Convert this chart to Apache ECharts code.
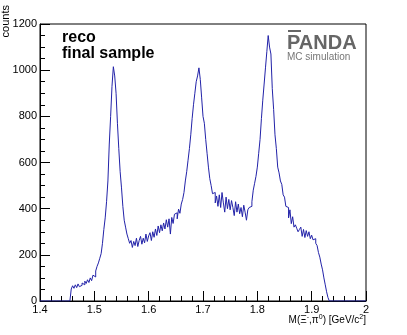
<!DOCTYPE html>
<html>
<head>
<meta charset="utf-8">
<script src="https://cdn.jsdelivr.net/npm/echarts@6/dist/echarts.min.js"></script>
<style>
  html, body { margin: 0; padding: 0; background: #fff; }
  #chart { width: 407px; height: 335px; }
</style>
</head>
<body>
<div id="chart"></div>
<script>
// histogram binning
const xMin = 1.4;
const xMax = 2.0;
const binWidth = 0.0025;
const firstEdge = 1.4575;   // low edge of first non-empty bin

// bin contents, from firstEdge on
const counts = [
    // 1.4575 - 1.50
    52, 66, 55, 70, 58, 74, 62, 68, 78, 70, 86, 76, 92, 80, 100, 88, 112, 104,
    // 1.5025 - 1.565, first peak
    130, 150, 165, 185, 205, 250, 310, 360, 430, 520, 680, 800, 930, 1015, 975,
    900, 770, 660, 560, 490, 410, 350, 320, 290, 270, 250,
    // 1.5675 - 1.66
    262, 232, 258, 240, 272, 236, 262, 280, 246, 272, 252, 290, 258, 282, 296,
    262, 300, 276, 312, 284, 325, 296, 330, 304, 338, 312, 352, 320, 356, 290,
    362, 336, 376, 382, 356, 398, 380, 420,
    // 1.6625 - 1.70, second peak
    440, 470, 520, 560, 610, 660, 720, 790, 850, 900, 950, 975, 1010, 960, 880, 800,
    // 1.7025 - 1.78
    770, 700, 640, 580, 530, 500, 465, 470, 425, 455, 410, 460, 405, 470, 425, 385,
    450, 400, 440, 395, 435, 405, 370, 430, 385, 420, 378, 405, 365, 415, 385, 350,
    // 1.7825 - 1.82, third peak
    395, 405, 410, 430, 480, 510, 540, 580, 640, 700, 790, 870, 940, 1010, 1080, 1150,
    // 1.8225 - 1.93
    1100, 1070, 920, 830, 720, 660, 580, 555, 520, 505,
    460, 450, 410, 405, 360, 395, 335, 365, 320, 330,
    315, 300, 310, 320, 280, 310, 275, 305, 280, 300,
    270, 285, 265, 270, 250, 240, 210, 190, 160, 135,
    100, 70, 40, 15
];

const yMax = 1200;
const yStep = 200;
const xStep = 0.1;

const textFont = 'Liberation Sans';

function buildHist() {
    const nBins = Math.round((xMax - xMin) / binWidth);
    const first = Math.round((firstEdge - xMin) / binWidth);
    const pts = [];
    for (let i = 0; i < nBins; i++) {
        const k = i - first;
        const v = (k >= 0 && k < counts.length) ? counts[k] : 0;
        pts.push([xMin + i * binWidth, v]);
    }
    pts.push([xMax, 0]);
    return pts;
}

let chart = echarts.init(document.getElementById('chart'), null, {renderer: 'canvas'});

let option = {
    animation: false,
    backgroundColor: '#fff',
    grid: {
        left: 40,
        right: 41,
        top: 24,
        bottom: 34,
        show: true,
        borderColor: '#000',
        borderWidth: 1,
        backgroundColor: '#fff',
        containLabel: false,
        outerBoundsMode: 'none'
    },
    xAxis: {
        type: 'value',
        min: xMin,
        max: xMax,
        interval: xStep,
        name: '{n|M(Ξ}{s|-}{n|,π}{s|0}{n|) [GeV/c}{s|2}{n|]}',
        nameLocation: 'end',
        nameGap: 0,
        nameMoveOverlap: false,
        nameTextStyle: {
            align: 'right',
            verticalAlign: 'top',
            padding: [13, 0, 0, 0],
            rich: {
                n: {fontFamily: textFont, fontSize: 10, color: '#000'},
                s: {fontFamily: textFont, fontSize: 7, color: '#000', verticalAlign: 'top', padding: [0, 0, 6, 0]}
            }
        },
        axisLine: {onZero: false, lineStyle: {color: '#000', width: 1}},
        axisTick: {inside: true, length: 10, lineStyle: {color: '#000'}},
        minorTick: {show: true, splitNumber: 5, length: 5, lineStyle: {color: '#000'}},
        splitLine: {show: false},
        axisLabel: {
            margin: 3,
            fontFamily: textFont,
            fontSize: 11,
            color: '#000',
            formatter: function (v) {
                return String(Math.round(v * 10) / 10);
            }
        }
    },
    yAxis: {
        type: 'value',
        min: 0,
        max: yMax,
        interval: yStep,
        axisLine: {show: true, lineStyle: {color: '#000', width: 1}},
        axisTick: {show: true, inside: true, length: 10, lineStyle: {color: '#000'}},
        minorTick: {show: true, splitNumber: 4, length: 5, lineStyle: {color: '#000'}},
        splitLine: {show: false},
        axisLabel: {
            margin: 3,
            fontFamily: textFont,
            fontSize: 11,
            color: '#000',
            formatter: function (v) {
                return String(v);
            }
        }
    },
    graphic: [
        {
            type: 'text',
            x: 11,
            y: 5,
            rotation: Math.PI / 2,
            style: {
                text: 'counts',
                font: '11px "Liberation Sans"',
                fill: '#000',
                align: 'right',
                verticalAlign: 'bottom'
            }
        },
        {
            type: 'text',
            left: 62,
            top: 30,
            style: {text: 'reco', font: 'bold 16px "Liberation Sans"', fill: '#000'}
        },
        {
            type: 'text',
            left: 62,
            top: 46,
            style: {text: 'final sample', font: 'bold 16px "Liberation Sans"', fill: '#000'}
        },
        {
            type: 'text',
            left: 287,
            top: 33,
            style: {text: 'PANDA', font: 'bold 20px "Liberation Sans"', fill: '#666'}
        },
        {
            type: 'line',
            shape: {x1: 288, y1: 31, x2: 301, y2: 31},
            style: {stroke: '#666', lineWidth: 2}
        },
        {
            type: 'text',
            left: 287,
            top: 52,
            style: {text: 'MC simulation', font: '10px "Liberation Sans"', fill: '#777'}
        }
    ],
    series: [
        {
            type: 'line',
            step: 'end',
            data: buildHist(),
            showSymbol: false,
            clip: true,
            lineStyle: {color: '#2222a8', width: 1},
            z: 3
        }
    ]
};
chart.setOption(option);
</script>
</body>
</html>
